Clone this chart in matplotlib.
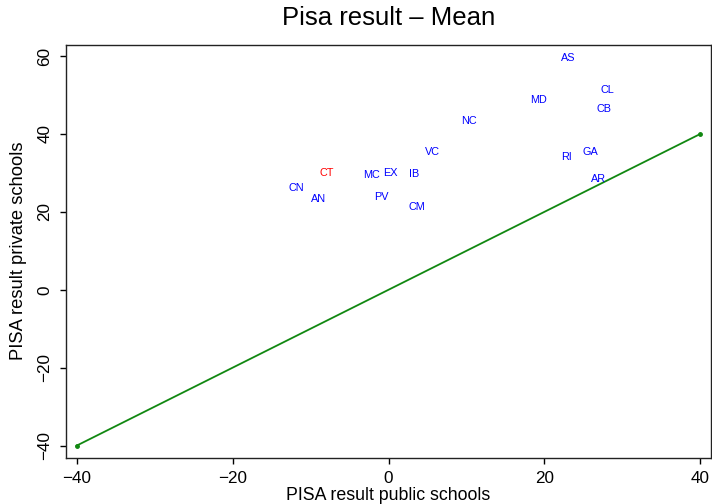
import matplotlib
matplotlib.use("Agg")
import matplotlib.pyplot as plt

plt.rcParams['font.family'] = ['Liberation Sans', 'DejaVu Sans']
plt.rcParams['axes.unicode_minus'] = True

regions = ["CT", "CN", "AN", "MC", "EX", "IB", "PV", "CM", "NC", "VC",
           "AS", "CL", "MD", "CB", "RI", "GA", "AR"]
public = [-7.9, -11.85, -9.0, -2.2, 0.3, 3.25, -0.86, 3.7, 10.3, 5.7,
          23.0, 28.1, 19.3, 27.7, 22.85, 25.9, 26.9]
private = [29.9, 26.1, 23.3, 29.5, 29.9, 29.7, 23.7, 21.3, 43.35, 35.3,
           59.4, 51.3, 48.8, 46.4, 34.2, 35.4, 28.4]
colors = ["red"] + ["blue"] * 16

ref_x = [-40, 40]
ref_y = [-40, 40]

W, H = 712, 504
fig = plt.figure(figsize=(W / 100, H / 100), dpi=100)
left, right, top, bottom = 66, 711, 44.7, 457.7
ax = fig.add_axes([left / W, 1 - bottom / H, (right - left) / W, (bottom - top) / H])

ax.plot(ref_x, ref_y, color="#118811", lw=1.3, marker="o", ms=2.5)
for lab, x, y, c in zip(regions, public, private, colors):
    ax.text(x, y, lab, color=c, fontsize=7.8, ha="center", va="center")

ax.set_xlim(-41.37, 41.37)
ax.set_ylim(-43.1, 62.9)
ax.set_xticks([-40, -20, 0, 20, 40])
ax.set_yticks([-40, -20, 0, 20, 40, 60])
ax.tick_params(direction="out", length=4.3, width=1, labelsize=12.3)
ax.tick_params(axis="x", pad=5.3)
ax.tick_params(axis="y", pad=5.4)
for lbl in ax.get_yticklabels():
    lbl.set_rotation(90)
    lbl.set_va("center")
for s in ax.spines.values():
    s.set_linewidth(1)
    s.set_color("#222222")

fig.text(389 / W, 1 - 18 / H, "Pisa result \u2013 Mean", fontsize=18.5,
         ha="center", va="center")
ax.set_xlabel("PISA result public schools", fontsize=12.8)
ax.set_ylabel("PISA result private schools", fontsize=13.2)
axh = bottom - top
axw = right - left
ax.xaxis.set_label_coords(0.5, -(499.9 - bottom) / axh)
ax.xaxis.label.set_va("baseline")
ax.yaxis.set_label_coords((19 - left) / axw, 0.5)
ax.yaxis.label.set_va("center")

fig.savefig("out.png", dpi=100)
